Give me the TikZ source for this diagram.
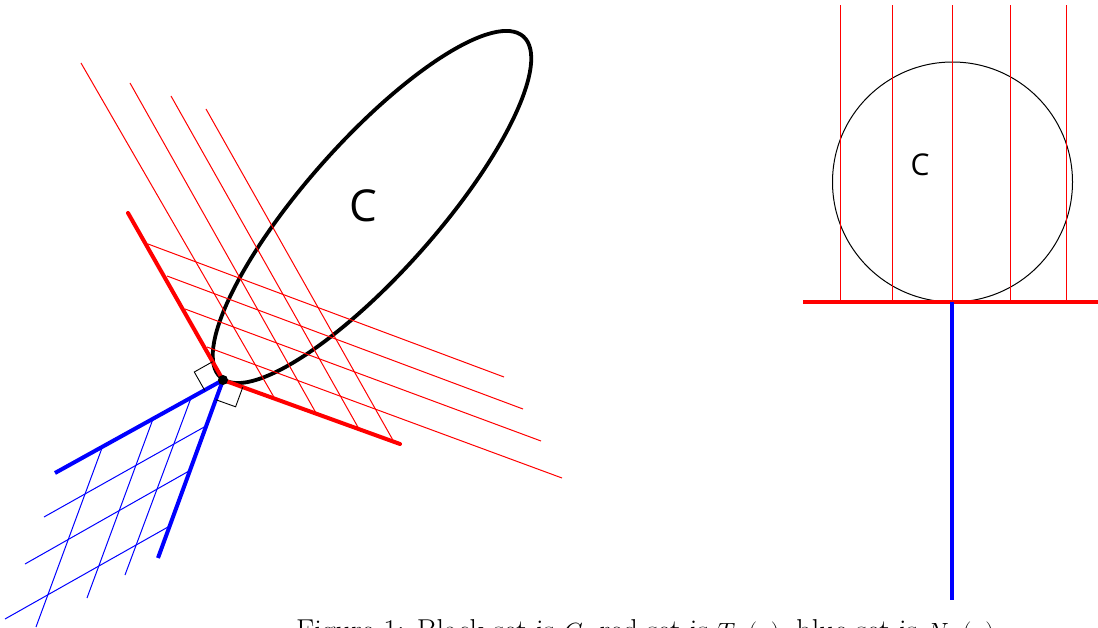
\documentclass[tikz,border=0pt]{standalone}
\usepackage{fontspec}
\newfontfamily\labelfont{Open Sans}
\begin{document}
\begin{tikzpicture}[x=1pt,y=-1pt,
  thickred/.style={red,line width=4pt},
  thinred/.style={red,line width=1pt},
  thickblue/.style={blue,line width=4pt},
  thinblue/.style={blue,line width=1pt},
  setline/.style={black,line width=3.8pt},
  rightangle/.style={black,line width=0.9pt},
  dotnode/.style={circle,fill=black,inner sep=0pt,minimum size=10pt},
  setlabel/.style={inner sep=0pt,font=\labelfont\fontsize{44}{44}\selectfont},
  smalllabel/.style={inner sep=0pt,font=\labelfont\fontsize{30}{30}\selectfont}]
\clip (0,0) rectangle (1098,628);
\fill[white] (0,0) rectangle (1098,628);
% ---------- left figure ----------
\coordinate (X) at (223,380);
\coordinate (R1) at (128,213);
\coordinate (R2) at (400,444);
\coordinate (B1) at (55,473);
\coordinate (B2) at (158,558);
% ellipse C
\draw[setline] (372,207) ellipse[x radius=228, y radius=66, rotate=48.4];
\node[setlabel] (C1) at (363,206) {C};
% red hatching parallel to first edge
\draw[thinred] (275,399) -- (81,63);
\draw[thinred] (316,413) -- (130,83);
\draw[thinred] (359,429) -- (171,96);
\draw[thinred] (394,442) -- (206,109);
% red hatching parallel to second edge
\draw[thinred] (148,244) -- (504,377);
\draw[thinred] (167,276) -- (523,409);
\draw[thinred] (185,309) -- (541,441);
\draw[thinred] (207,347) -- (562,478);
% blue hatching
\draw[thinblue] (102,448) -- (36,627);
\draw[thinblue] (153,419) -- (87,598);
\draw[thinblue] (191,398) -- (125,575);
\draw[thinblue] (206,426) -- (44,517);
\draw[thinblue] (189,471) -- (25,564);
\draw[thinblue] (168,527) -- (5,619);
% tangent cone and normal cone
\draw[thickred,line cap=round] (R1) -- (X) -- (R2);
\draw[thickblue] (X) -- (B1);
\draw[thickblue] (X) -- (B2);
% right angle marks
\draw[rightangle] (212.6,361.7) -- (194.3,372.0) -- (204.7,390.3);
\draw[rightangle] (242.8,387.1) -- (235.6,406.8) -- (215.8,399.7);
\node[dotnode] (x) at (X) {};
% ---------- right figure ----------
\coordinate (P) at (952,302);
\coordinate (L) at (803,302);
\coordinate (Rr) at (1098,302);
\coordinate (Bb) at (952,600);
\draw[black,line width=1pt] (952.5,182) circle[radius=120];
\node[smalllabel] (C2) at (920,165) {C};
\foreach \xx in {840.7,892,952,1010,1066}
  \draw[thinred] (\xx,302) -- (\xx,5);
\draw[thickred] (L) -- (Rr);
\draw[thickblue] (P) -- (Bb);
% ---------- caption ----------
\node[anchor=base west,inner sep=0pt,font=\fontsize{30.2}{34}\selectfont] (cap) at (296,640)
  {Figure 1: Black set is $C$, red set is $T_C(x)$, blue set is $N_C(x)$};
\end{tikzpicture}
\end{document}
